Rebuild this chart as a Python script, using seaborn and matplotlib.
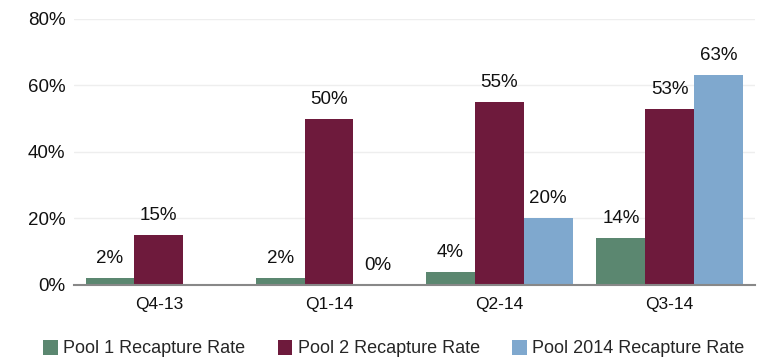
import numpy as np
import pandas as pd
import matplotlib
matplotlib.use("Agg")
import matplotlib.pyplot as plt
import seaborn as sns

quarters = ["Q4-13", "Q1-14", "Q2-14", "Q3-14"]
pool1 = [2, 2, 4, 14]
pool2 = [15, 50, 55, 53]
pool2014 = [np.nan, 0, 20, 63]
series_names = ["Pool 1 Recapture Rate", "Pool 2 Recapture Rate", "Pool 2014 Recapture Rate"]
colors = ["#5B8770", "#6E1A3C", "#7FA8CE"]
y_ticks = [0, 20, 40, 60, 80]

df = pd.DataFrame({
    "quarter": quarters * 3,
    "series": np.repeat(series_names, len(quarters)),
    "rate": pool1 + pool2 + pool2014,
})

sns.set_style("white")
plt.rcParams["font.family"] = ["Liberation Sans", "DejaVu Sans"]
narrow = ["Liberation Sans Narrow", "Liberation Sans", "DejaVu Sans"]

fig = plt.figure(figsize=(7.75, 3.63), dpi=100)
ax = fig.add_axes([0.095, 0.215, 0.879, 0.733])

sns.barplot(data=df, x="quarter", y="rate", hue="series", order=quarters,
            hue_order=series_names, palette=colors, width=0.86, ax=ax,
            legend=True, saturation=1, errorbar=None, linewidth=0)

for cont in ax.containers:
    vals = cont.datavalues
    labels = ["" if np.isnan(v) else f"{v:.0f}%" for v in vals]
    ax.bar_label(cont, labels=labels, padding=8, fontsize=13.5, color="#111111")

ax.set_ylim(0, 80)
ax.set_yticks(y_ticks)
ax.set_yticklabels([f"{t}%" for t in y_ticks], fontsize=13.5, color="#111111")
ax.set_xlabel("")
ax.set_ylabel("")
ax.tick_params(axis="both", length=0)
ax.tick_params(axis="y", pad=6)
ax.tick_params(axis="x", pad=9)
for lbl in ax.get_xticklabels():
    lbl.set_fontfamily(narrow)
    lbl.set_fontsize(12.5)
    lbl.set_color("#111111")

ax.yaxis.grid(True, color="#eeeeee", linewidth=1)
ax.set_axisbelow(True)
for side in ["left", "right", "top"]:
    ax.spines[side].set_visible(False)
ax.spines["bottom"].set_color("#888888")
ax.spines["bottom"].set_linewidth(1.5)

handles, labels = ax.get_legend_handles_labels()
ax.get_legend().remove()
fig.legend(handles, labels, loc="center", bbox_to_anchor=(0.508, 0.04), ncol=3,
           frameon=False, handlelength=0.8, handleheight=0.9, handletextpad=0.3,
           columnspacing=1.8, prop={"family": narrow, "size": 13})

fig.savefig("out.png", dpi=100)
